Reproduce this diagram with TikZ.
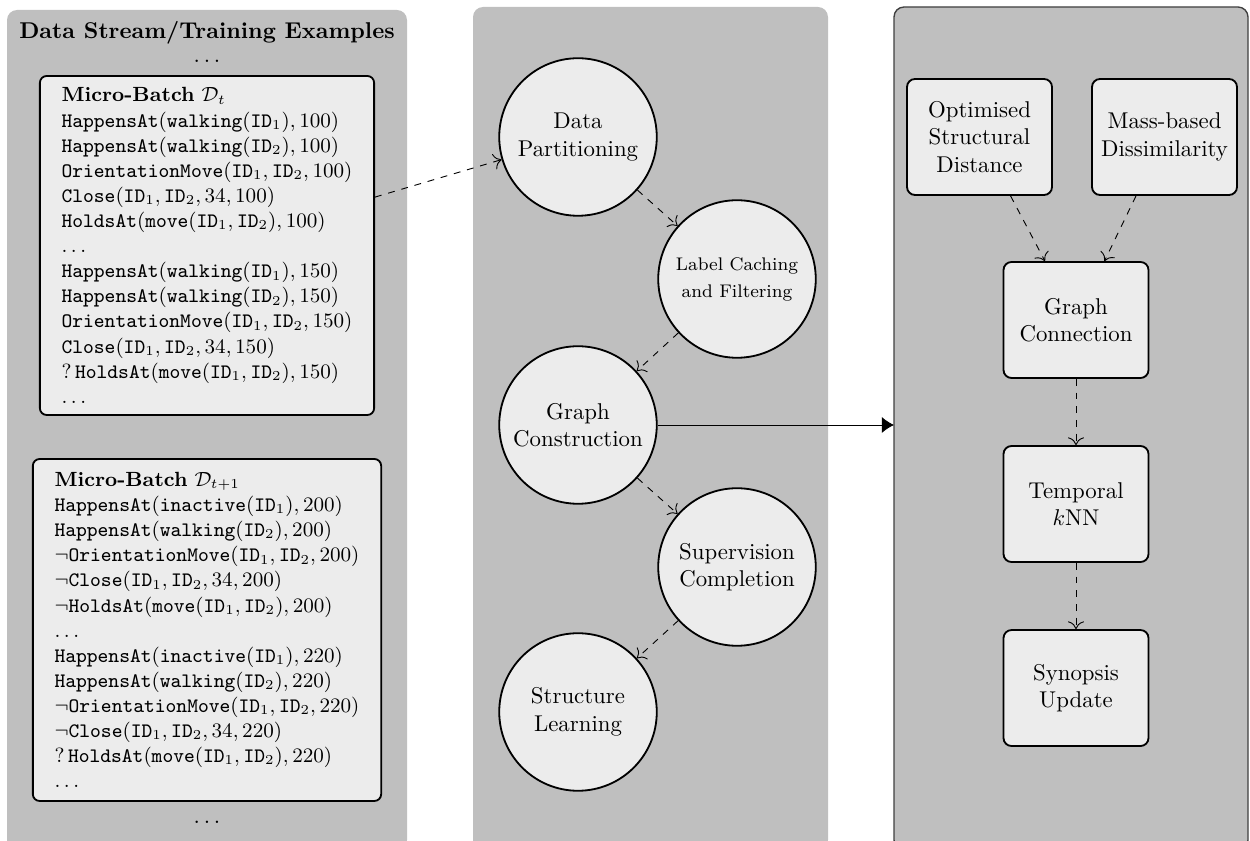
\documentclass[tikz,border=0pt]{standalone}
\usepackage{amsmath,amssymb}
\usetikzlibrary{arrows.meta,positioning}

\begin{document}
\begin{tikzpicture}[
        x=0.438pt, y=-0.438pt,
        node distance=29pt,
        panel/.style={fill=gray!50, rounded corners=4.4pt},
        batch/.style={draw, thick, fill=gray!15, rounded corners=3pt, align=left, font=\small, inner xsep=9.5pt, inner ysep=4pt},
        stage/.style={draw, thick, circle, fill=gray!15, minimum size=69pt, inner sep=1pt, align=center},
        unit/.style={draw, thick, fill=gray!15, rounded corners=3.5pt, align=center, minimum width=63.5pt, minimum height=50.8pt},
        flow/.style={-{To[length=3.4pt,width=7pt]}, dashed},
        link/.style={-{Latex[length=5.3pt,width=7pt]}}
    ]
        \useasboundingbox (0,0) rectangle (1250,841);
        % the three columns
        \fill[panel] (7,10) rectangle (407,850);
        \fill[panel] (473,7) rectangle (828,850);
        \filldraw[panel, draw=black!75, line width=0.6pt] (894,7) rectangle (1248,850);

        % data stream
        \node[font=\bfseries] (title) at (207,33) {Data Stream/Training Examples};
        \node (dtop) at (207,61) {$\ldots$};
        \node[batch, minimum height=148.5pt] (mb1) at (207,245.5) {%
            \textbf{Micro-Batch} $\mathcal{D}_t$\\
            $\mathtt{HappensAt}(\mathtt{walking}(\mathtt{ID}_1), 100)$\\
            $\mathtt{HappensAt}(\mathtt{walking}(\mathtt{ID}_2), 100)$\\
            $\mathtt{OrientationMove}(\mathtt{ID}_1, \mathtt{ID}_2, 100)$\\
            $\mathtt{Close}(\mathtt{ID}_1, \mathtt{ID}_2, 34, 100)$\\
            $\mathtt{HoldsAt}(\mathtt{move}(\mathtt{ID}_1, \mathtt{ID}_2), 100)$\\
            $\ldots$\\
            $\mathtt{HappensAt}(\mathtt{walking}(\mathtt{ID}_1), 150)$\\
            $\mathtt{HappensAt}(\mathtt{walking}(\mathtt{ID}_2), 150)$\\
            $\mathtt{OrientationMove}(\mathtt{ID}_1, \mathtt{ID}_2, 150)$\\
            $\mathtt{Close}(\mathtt{ID}_1, \mathtt{ID}_2, 34, 150)$\\
            $?\,\mathtt{HoldsAt}(\mathtt{move}(\mathtt{ID}_1, \mathtt{ID}_2), 150)$\\
            $\ldots$};
        \node[batch, minimum height=149.8pt] (mb2) at (207,630) {%
            \textbf{Micro-Batch} $\mathcal{D}_{t+1}$\\
            $\mathtt{HappensAt}(\mathtt{inactive}(\mathtt{ID}_1), 200)$\\
            $\mathtt{HappensAt}(\mathtt{walking}(\mathtt{ID}_2), 200)$\\
            $\neg\mathtt{OrientationMove}(\mathtt{ID}_1, \mathtt{ID}_2, 200)$\\
            $\neg\mathtt{Close}(\mathtt{ID}_1, \mathtt{ID}_2, 34, 200)$\\
            $\neg\mathtt{HoldsAt}(\mathtt{move}(\mathtt{ID}_1, \mathtt{ID}_2), 200)$\\
            $\ldots$\\
            $\mathtt{HappensAt}(\mathtt{inactive}(\mathtt{ID}_1), 220)$\\
            $\mathtt{HappensAt}(\mathtt{walking}(\mathtt{ID}_2), 220)$\\
            $\neg\mathtt{OrientationMove}(\mathtt{ID}_1, \mathtt{ID}_2, 220)$\\
            $\neg\mathtt{Close}(\mathtt{ID}_1, \mathtt{ID}_2, 34, 220)$\\
            $?\,\mathtt{HoldsAt}(\mathtt{move}(\mathtt{ID}_1, \mathtt{ID}_2), 220)$\\
            $\ldots$};
        \node (dbot) at (207,822) {$\ldots$};

        % learning pipeline
        \node[stage] (dp) at (578,137) {Data\\Partitioning};
        \node[stage, font=\footnotesize] (lcf) at (737,279) {Label Caching\\[2.3pt]and Filtering};
        \node[stage] (gcon) at (578,425) {Graph\\Construction};
        \node[stage] (sc) at (737,567) {Supervision\\Completion};
        \node[stage] (sl) at (578,712) {Structure\\Learning};

        % graph construction details
        \node[unit] (osd) at (979.5,137) {Optimised\\Structural\\Distance};
        \node[unit] (mbd) at (1164.5,137) {Mass-based\\Dissimilarity};
        \node[unit] (gcn) at (1076,320) {Graph\\Connection};
        \node[unit, below=of gcn] (knn) {Temporal\\$k$NN};
        \node[unit, below=of knn] (syn) {Synopsis\\Update};
        \coordinate (rpin) at (894,425);

        \draw[flow] ([yshift=21.2pt]mb1.east) -- (dp);
        \draw[flow] (dp) -- (lcf);
        \draw[flow] (lcf) -- (gcon);
        \draw[flow] (gcon) -- (sc);
        \draw[flow] (sc) -- (sl);
        \draw[link] (gcon.east) -- (rpin);
        \draw[flow] (osd) -- (gcn);
        \draw[flow] (mbd) -- (gcn);
        \draw[flow] (gcn) -- (knn);
        \draw[flow] (knn) -- (syn);
    \end{tikzpicture}
\end{document}
